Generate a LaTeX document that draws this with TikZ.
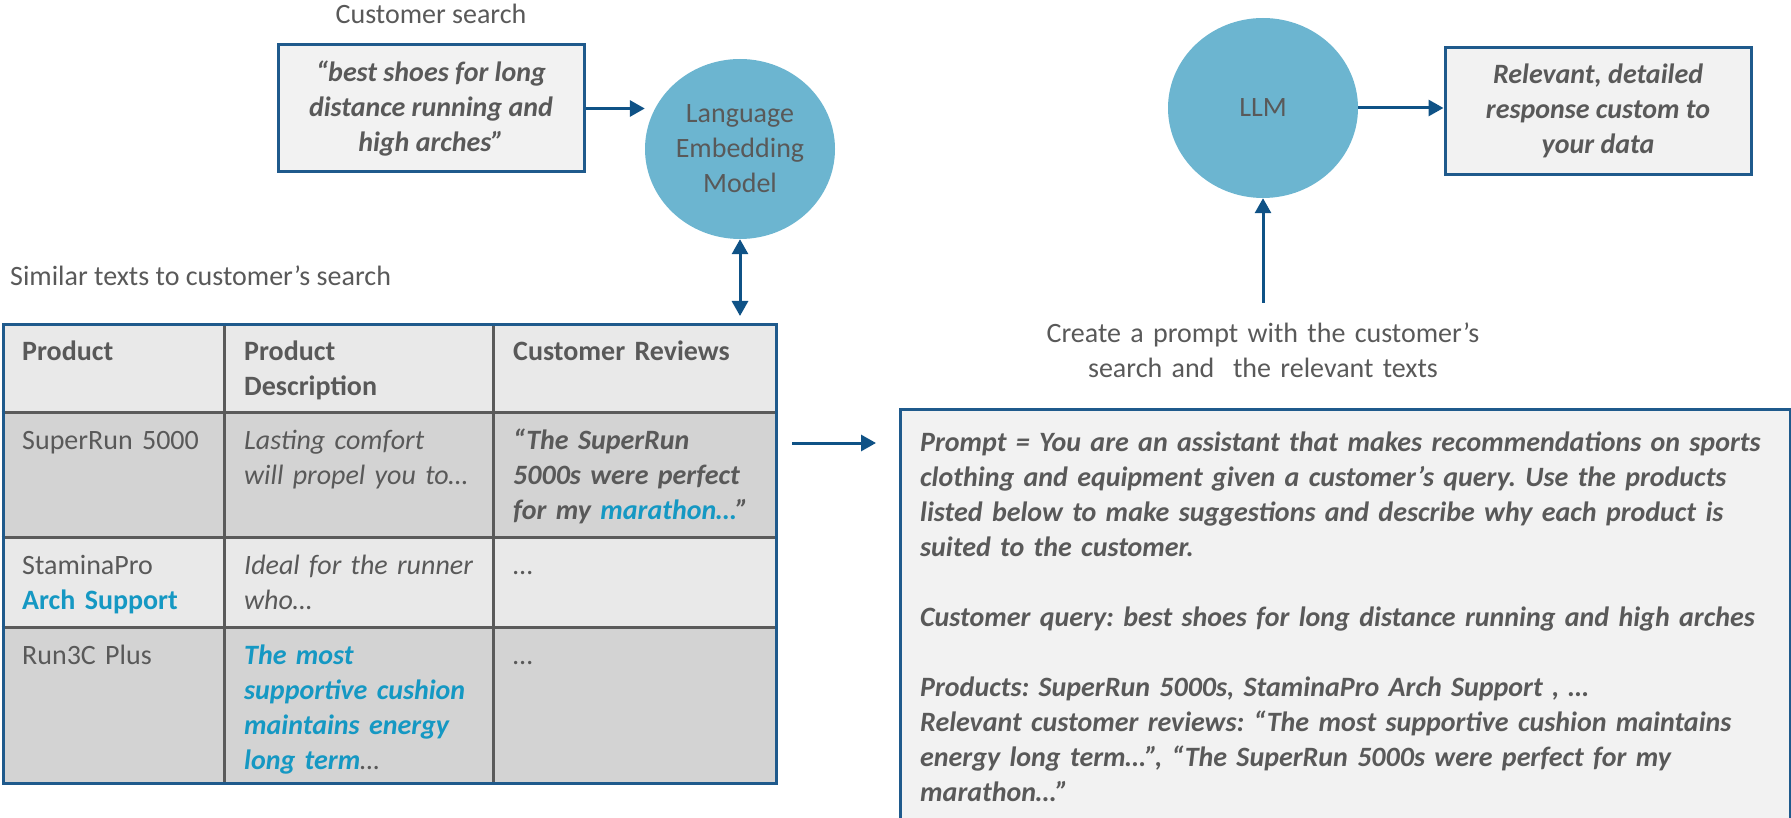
\documentclass[tikz,border=0pt]{standalone}
\usepackage{fontspec}
\setmainfont{Carlito}
\usetikzlibrary{arrows.meta,shapes.geometric}
\definecolor{tgray}{HTML}{595959}
\definecolor{bblue}{HTML}{1F5A8C}
\definecolor{ablue}{HTML}{0F5286}
\definecolor{efill}{HTML}{6CB5D0}
\definecolor{boxfill}{HTML}{F2F2F2}
\definecolor{rowlight}{HTML}{E9E9E9}
\definecolor{rowdark}{HTML}{D3D3D3}
\definecolor{hblue}{HTML}{1598C3}
\definecolor{gridgray}{HTML}{5A5A5A}
\newcommand\myfs{\fontsize{28}{35}\selectfont\frenchspacing}
\frenchspacing
\begin{document}
\begin{tikzpicture}[x=1pt,y=-1pt,
  txt/.style={inner sep=0pt, text=tgray, font=\myfs},
  reg/.style={txt, anchor=base west, text width=240pt, align=left},
  itl/.style={reg, font=\myfs\itshape},
  bld/.style={reg, font=\myfs\bfseries},
  bit/.style={reg, font=\myfs\bfseries\itshape},
  boxnode/.style={draw=bblue, line width=3pt, fill=boxfill, minimum width=306pt, minimum height=127pt, inner sep=0pt, text=tgray, font=\myfs\bfseries\itshape, align=center},
  model/.style={ellipse, fill=efill, minimum width=190pt, minimum height=180pt, inner sep=0pt, text=tgray, font=\myfs, align=center},
  arr/.style={draw=ablue, line width=3pt, -{Triangle[length=15pt,width=16pt]}},
  darr/.style={draw=ablue, line width=3pt, {Triangle[length=15pt,width=16pt]}-{Triangle[length=15pt,width=16pt]}}
]
\useasboundingbox (0,0) rectangle (1791,818);

% top-left: search
\node[txt, anchor=base] (stitle) at (431,24) {Customer search};
\node[boxnode] (search) at (431,108.5) {“best shoes for long\\distance running and\\high arches”};
\node[model] (lem) at (740,149) {Language\\Embedding\\Model};
\draw[arr] (search.east) -- (search.east -| lem.west);

% table
\node[txt, anchor=base west] (simtitle) at (10,286) {Similar texts to customer’s search};
\fill[rowlight] (1.5,323) rectangle (775,412);
\fill[rowdark] (1.5,412) rectangle (775,537);
\fill[rowlight] (1.5,537) rectangle (775,627);
\fill[rowdark] (1.5,627) rectangle (775,782);
\draw[gridgray, line width=3pt] (1.5,412) -- (775,412) (1.5,537) -- (775,537) (1.5,627) -- (775,627)
  (224,323) -- (224,782) (493,323) -- (493,782);
\node[draw=bblue, line width=3pt, anchor=north west, minimum width=773.5pt, minimum height=459pt, inner sep=0pt] (table) at (1.5,323) {};
\draw[darr, shorten >=7pt] (lem.south) -- (table.north -| lem.south);

\node[bld] (h1) at (22,360) {Product};
\node[bld] (h2) at (244,360) {Product\\Description};
\node[bld] (h3) at (513,360) {Customer Reviews};

\node[reg] (c11) at (22,449) {SuperRun 5000};
\node[itl] (c12) at (244,449) {Lasting comfort\\will propel you to…};
\node[bit] (c13) at (513,449) {“The SuperRun\\5000s were perfect\\for my {\color{hblue}marathon…}”};

\node[reg] (c21) at (22,574) {StaminaPro\\{\bfseries\color{hblue}Arch Support}};
\node[itl] (c22) at (244,574) {Ideal for the runner\\who…};
\node[reg] (c23) at (513,574) {…};

\node[reg] (c31) at (22,664) {Run3C Plus};
\node[bit, text=hblue] (c32) at (244,664) {The most\\supportive cushion\\maintains energy\\long term{\color{tgray}\mdseries…}};
\node[reg] (c33) at (513,664) {…};

% arrow to prompt
\coordinate (p1) at (792,443);
\coordinate (p2) at (876,443);
\draw[arr] (p1) -- (p2);

% prompt box
\node[draw=bblue, line width=3pt, fill=boxfill, anchor=north west, minimum width=890pt, minimum height=440pt, inner sep=0pt] (prompt) at (899,408) {};
\node[bit, text width=880pt] (ptext) at (920,451) {Prompt = You are an assistant that makes recommendations on sports\\
clothing and equipment given a customer’s query. Use the products\\
listed below to make suggestions and describe why each product is\\
suited to the customer.\\[35pt]
Customer query: best shoes for long distance running and high arches\\[35pt]
Products: SuperRun 5000s, StaminaPro Arch Support , …\\
Relevant customer reviews: “The most supportive cushion maintains\\
energy long term…”, “The SuperRun 5000s were perfect for my\\
marathon…”};

% right top
\node[txt, anchor=base, text width=560pt, align=center] (cap) at (1263,342) {Create a prompt with the customer’s\\search and\ \ the relevant texts};
\node[model] (llm) at (1263,108) {LLM};
\node[boxnode] (resp) at (1598,111) {Relevant, detailed\\response custom to\\your data};
\draw[arr] (llm.east) -- (llm.east -| resp.west);
\coordinate (c0) at (1263,303);
\draw[arr] (c0) -- (llm.south);
\end{tikzpicture}
\end{document}
